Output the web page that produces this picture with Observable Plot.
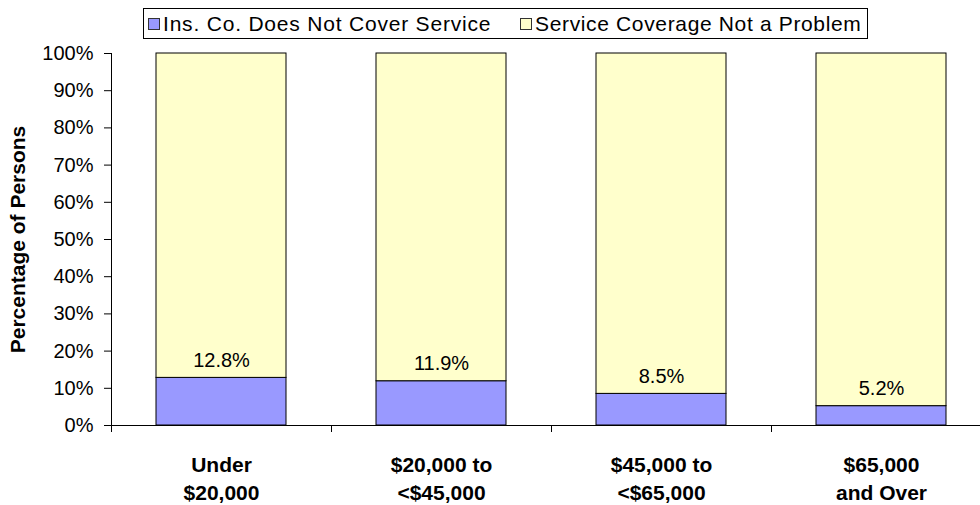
<!DOCTYPE html>
<html>
<head>
<meta charset="utf-8">
<script src="https://cdn.jsdelivr.net/npm/d3@7"></script>
<script src="https://cdn.jsdelivr.net/npm/@observablehq/plot@0.6"></script>
<style>
  html, body { margin: 0; padding: 0; background: #fff; overflow: hidden; }
  body { width: 980px; height: 505px; font-family: "Liberation Sans", Arial, sans-serif; }
  #legend { position: relative; width: 980px; height: 44px; }
  #legend .box { position: absolute; left: 143px; top: 8px; width: 723px; height: 29px; border: 1px solid #000; box-sizing: content-box; }
  #legend .item { position: absolute; top: 0; height: 29px; display: flex; align-items: center; font-size: 21px; color: #000; white-space: nowrap; }
  #legend .sw { width: 10px; height: 10px; border: 1px solid #333; margin-right: 3px; }
  svg { display: block; }
</style>
</head>
<body>
<div id="legend"></div>
<div id="chart"></div>
<script>
const categories = ["Under\n$20,000", "$20,000 to\n<$45,000", "$45,000 to\n<$65,000", "$65,000\nand Over"];
const seriesNames = ["Ins. Co. Does Not Cover Service", "Service Coverage Not a Problem"];
const notCovered = [12.8, 11.9, 8.5, 5.2];
const notAProblem = [87.2, 88.1, 91.5, 94.8];
const seriesColors = ["#9999FF", "#FFFFCC"];
const yTicks = [0, 10, 20, 30, 40, 50, 60, 70, 80, 90, 100];

const rows = [];
categories.forEach((c, i) => {
  rows.push({cat: c, series: seriesNames[0], value: notCovered[i]});
  rows.push({cat: c, series: seriesNames[1], value: notAProblem[i]});
});
const labels = categories.map((c, i) => ({cat: c, value: notCovered[i]}));

// Legend (HTML, above the SVG)
const legend = document.getElementById("legend");
const box = document.createElement("div");
box.className = "box";
legend.appendChild(box);
const itemLefts = [4, 376];
const itemSpacing = ["0.8px", "0.65px"];
seriesNames.forEach((name, i) => {
  const it = document.createElement("div");
  it.className = "item";
  it.style.left = itemLefts[i] + "px";
  const sw = document.createElement("div");
  sw.className = "sw";
  sw.style.background = seriesColors[i];
  it.appendChild(sw);
  const t = document.createElement("span");
  t.textContent = name;
  t.style.letterSpacing = itemSpacing[i];
  it.appendChild(t);
  box.appendChild(it);
});

const svgNS = "http://www.w3.org/2000/svg";
function axisLines(index, scales, values, dimensions) {
  const g = document.createElementNS(svgNS, "g");
  g.setAttribute("stroke", "#000");
  g.setAttribute("stroke-width", "1");
  const x = scales.x, y = scales.y;
  const y0 = y(0), y1 = y(100);
  const left = dimensions.marginLeft;
  const vl = document.createElementNS(svgNS, "line");
  vl.setAttribute("x1", left + 0.5); vl.setAttribute("x2", left + 0.5);
  vl.setAttribute("y1", y1); vl.setAttribute("y2", y0);
  g.appendChild(vl);
  const gap = (x.step() - x.bandwidth()) / 2;
  categories.forEach(c => {
    const bx = Math.round(x(c) - gap) + 0.5;
    const l = document.createElementNS(svgNS, "line");
    l.setAttribute("x1", bx); l.setAttribute("x2", bx);
    l.setAttribute("y1", y0); l.setAttribute("y2", y0 + 7);
    g.appendChild(l);
  });
  return g;
}

const chart = Plot.plot({
  width: 980,
  height: 461,
  marginTop: 9,
  marginBottom: 80,
  marginLeft: 111,
  marginRight: -11,
  style: {fontFamily: "'Liberation Sans', Arial, sans-serif", fontSize: "20px", color: "#000", background: "#fff", overflow: "visible"},
  x: {domain: categories, paddingInner: 0.41, paddingOuter: 0.205, label: null},
  y: {domain: [0, 100], label: null},
  color: {domain: seriesNames, range: seriesColors},
  marks: [
    Plot.barY(rows, {x: "cat", y: "value", fill: "series", stroke: "#000", strokeWidth: 1, order: seriesNames}),
    Plot.ruleY([0], {stroke: "#000"}),
    axisLines,
    Plot.axisY({ticks: yTicks, tickFormat: d => d + "%", tickSize: 7, tickPadding: 11, label: null, fontSize: 20}),
    Plot.axisX({tickSize: 0, tickPadding: 26, lineAnchor: "top", lineHeight: 1.35, fontSize: 21, fontWeight: "bold", label: null}),
    Plot.text(labels, {x: "cat", y: "value", text: d => d.value.toFixed(1) + "%", dy: -11, lineAnchor: "bottom", fontSize: 20, fill: "#000"}),
    Plot.text(["Percentage of Persons"], {frameAnchor: "left", textAnchor: "middle", dx: -93, rotate: -90, fontWeight: "bold", fontSize: 21, fill: "#000"})
  ]
});
document.getElementById("chart").appendChild(chart);
</script>
</body>
</html>
